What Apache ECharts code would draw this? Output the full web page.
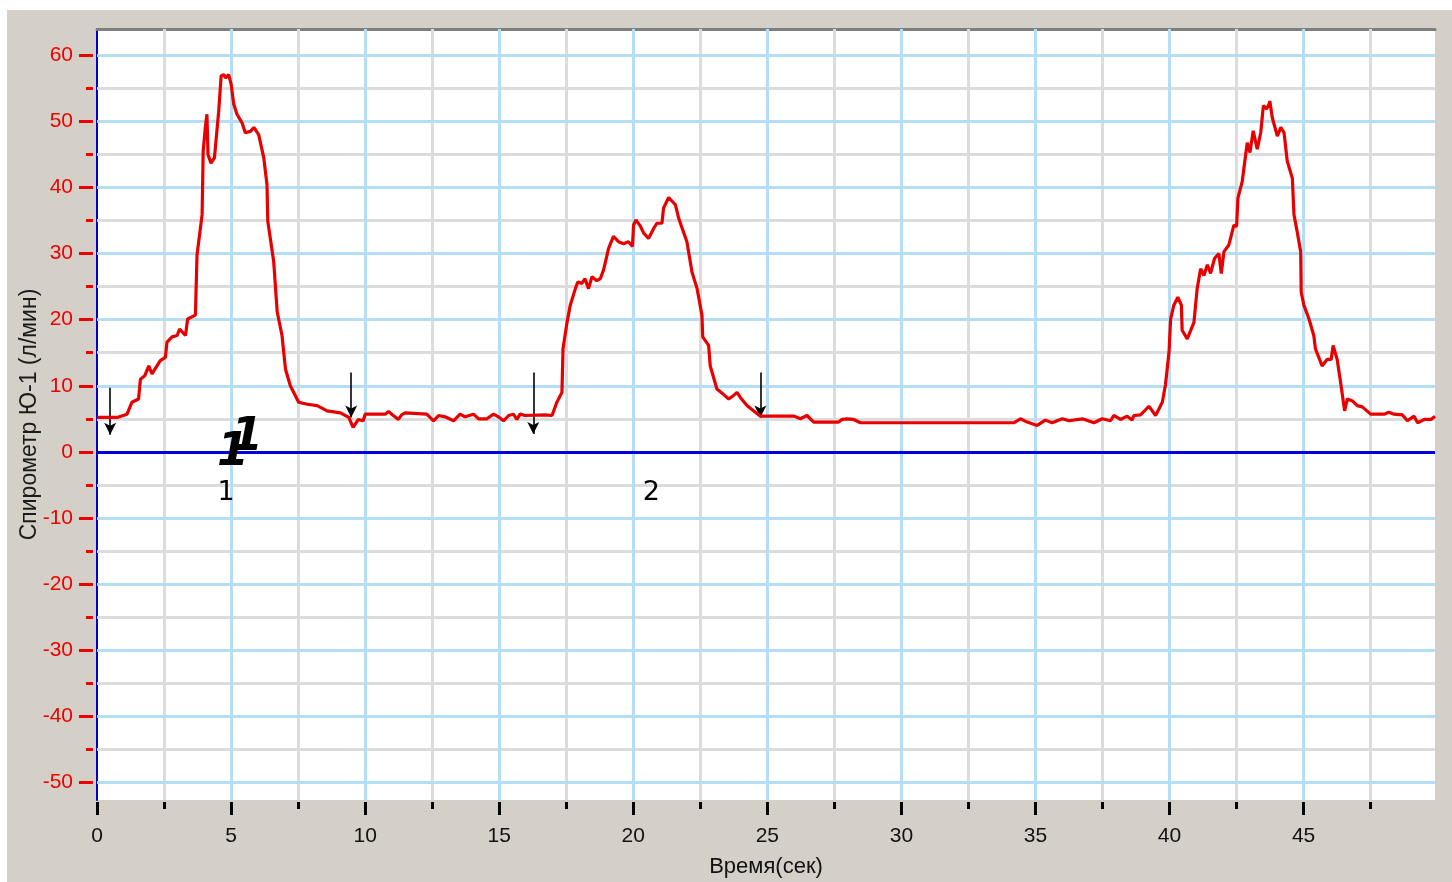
<!DOCTYPE html>
<html>
<head>
<meta charset="utf-8">
<script src="https://cdn.jsdelivr.net/npm/echarts@6/dist/echarts.min.js"></script>
<style>
html,body{margin:0;padding:0;background:#ffffff;width:1452px;height:882px;overflow:hidden;}
#bg{position:absolute;left:7px;top:10px;width:1445px;height:872px;background:#d4d0c8;}
#chart{position:absolute;left:0;top:0;width:1452px;height:882px;}
</style>
</head>
<body>
<div id="bg"></div>
<div id="chart"></div>
<script>
// ---- data ----
const timeSec = [
0,0.75,1.12,1.3,1.55,1.62,1.78,1.93,2.05,2.36,2.55,2.61,2.8,2.99,3.08,3.3,3.38,3.67,3.73,3.92,
3.96,4.04,4.1,4.14,4.25,4.38,4.54,4.63,4.73,4.8,4.91,5.0,5.1,5.22,5.41,5.53,5.72,5.85,6.03,6.22,
6.34,6.37,6.59,6.72,6.9,7.03,7.21,7.52,7.84,8.21,8.58,9.08,9.39,9.55,9.75,9.93,10.0,10.75,10.87,11.05,
11.24,11.36,11.49,12.3,12.36,12.55,12.74,12.98,13.3,13.54,13.73,14.04,14.23,14.54,14.79,14.97,15.16,15.35,15.53,15.66,
15.78,15.97,16.72,16.97,17.15,17.34,17.38,17.53,17.65,17.84,17.93,18.08,18.2,18.33,18.46,18.64,18.77,18.89,19.08,19.26,
19.45,19.64,19.82,19.97,20.01,20.1,20.26,20.39,20.57,20.76,20.88,21.07,21.13,21.32,21.57,21.69,22.0,22.19,22.38,22.56,
22.59,22.81,22.87,23.12,23.36,23.56,23.73,23.87,24.0,24.24,24.74,25.36,26.0,26.23,26.48,26.73,27.66,27.78,27.97,28.22,
28.47,29.22,34.19,34.44,34.69,35.06,35.37,35.62,36.0,36.25,36.75,37.18,37.49,37.8,37.92,38.17,38.42,38.6,38.67,38.92,
39.23,39.48,39.73,39.85,39.98,40.04,40.16,40.31,40.44,40.47,40.66,40.91,41.03,41.16,41.28,41.41,41.53,41.68,41.84,41.93,
42.03,42.21,42.4,42.5,42.55,42.71,42.84,42.9,43.0,43.12,43.27,43.4,43.5,43.62,43.71,43.74,43.83,44.02,44.15,44.27,
44.39,44.58,44.64,44.76,44.89,44.91,45.01,45.2,45.38,45.44,45.69,45.88,46.03,46.1,46.25,46.38,46.53,46.63,46.82,47.0,
47.19,47.5,48.0,48.18,48.37,48.68,48.87,49.12,49.25,49.5,49.75,49.9
];
const flowLpm = [
5.2,5.2,5.7,7.5,8.0,11.0,11.5,13.0,11.8,13.8,14.3,16.6,17.4,17.6,18.6,17.6,20.1,20.7,29.8,35.9,
45.5,49.1,51.1,45.0,43.7,44.5,51.6,56.9,57.1,56.6,57.1,55.7,52.6,51.1,49.8,48.3,48.5,49.1,48.0,44.5,
40.4,34.9,28.8,21.2,17.6,12.5,10.0,7.5,7.2,7.0,6.2,5.9,5.2,3.7,4.9,4.7,5.7,5.7,6.1,5.5,
4.9,5.6,5.9,5.7,6.0,4.7,5.5,5.3,4.7,5.7,5.3,5.7,5.0,5.0,5.7,5.3,4.7,5.5,5.7,4.9,
5.7,5.5,5.6,5.5,7.5,9.0,15.6,19.6,22.2,24.7,25.7,25.5,26.2,24.7,26.5,25.9,26.2,27.5,30.8,32.6,
31.8,31.5,31.8,31.1,34.3,35.1,34.2,33.1,32.3,33.8,34.6,34.6,36.9,38.5,37.4,35.4,31.8,27.2,24.7,20.7,
17.4,16.1,13.0,9.5,8.7,8.0,8.5,9.0,8.2,7.0,5.4,5.4,5.4,5.0,5.5,4.5,4.5,4.9,5.0,4.9,
4.4,4.4,4.4,5.0,4.5,4.0,4.8,4.4,5.0,4.7,5.0,4.4,5.0,4.7,5.5,4.9,5.4,4.8,5.5,5.6,
6.9,5.5,7.5,10.2,15.1,20.1,22.2,23.4,22.2,18.4,17.1,19.6,24.7,27.7,26.7,28.3,27.0,29.3,30.0,27.0,
30.3,31.3,34.3,34.1,38.4,40.9,45.0,46.8,45.3,48.6,45.8,48.3,52.4,51.9,52.6,53.1,50.6,47.8,49.1,48.3,
44.0,41.4,35.9,33.3,30.3,24.2,22.2,20.1,17.6,15.6,13.0,14.0,14.0,16.1,14.0,10.5,6.2,8.0,7.7,7.0,
6.8,5.7,5.7,6.0,5.7,5.6,4.7,5.4,4.4,4.9,4.9,5.4
];
// tick values
const xMajorTicks = [0, 5, 10, 15, 20, 25, 30, 35, 40, 45];
const xMinorTicks = [2.5, 7.5, 12.5, 17.5, 22.5, 27.5, 32.5, 37.5, 42.5, 47.5];
const yMajorTicks = [-50, -40, -30, -20, -10, 0, 10, 20, 30, 40, 50, 60];
const yMinorTicks = [-45, -35, -25, -15, -5, 5, 15, 25, 35, 45, 55];
// arrow markers (time, top value, bottom value)
const arrowTime   = [0.49, 9.48, 16.27, 24.74];
const arrowTop    = [9.7, 12.0, 12.0, 12.0];
const arrowBottom = [2.6, 5.2, 2.7, 5.2];
// text notes
const noteText = ['1', '2'];
const noteTime = [4.81, 20.67];
const noteVal  = [-6.24, -6.24];
const bigNoteText = ['1', '1'];
const bigNoteTime = [5.07, 5.59];
const bigNoteVal  = [-0.15, 2.13];

const xTitle = 'Время(сек)';
const yTitle = 'Спирометр Ю-1 (л/мин)';

// ---- chart ----
const Y_MIN = -52.7, Y_MAX = 64, X_MIN = 0, X_MAX = 49.9;
const FONT = '"Liberation Sans", Arial, sans-serif';
const BLUE_GRID = '#b4def5';
const GRAY_GRID = '#dcdcdc';
const RED = '#ee0000';

const lineData = timeSec.map((t, i) => [t, flowLpm[i]]);
const arrowLines = arrowTime.map((t, i) => [
  {coord: [t, arrowTop[i]], symbol: 'none'},
  {coord: [t, arrowBottom[i]], symbol: 'arrow'}
]);

const chart = echarts.init(document.getElementById('chart'), null, {renderer: 'canvas'});
chart.setOption({
  animation: false,
  backgroundColor: 'transparent',
  grid: {left: 97, top: 29, right: 17, bottom: 82, show: true, backgroundColor: '#ffffff', borderWidth: 0,
         containLabel: false, outerBoundsMode: 'none'},
  xAxis: [{
    type: 'value', position: 'bottom', min: X_MIN, max: X_MAX, interval: 5, offset: 2,
    axisLine: {show: false, onZero: false},
    axisTick: {show: true, customValues: xMajorTicks, length: 13, lineStyle: {color: '#000', width: 3}},
    minorTick: {show: false, splitNumber: 2},
    axisLabel: {color: '#111', fontSize: 21, fontFamily: FONT, margin: 24, customValues: xMajorTicks},
    splitLine: {show: false},
    name: xTitle, nameLocation: 'middle', nameGap: 54, nameMoveOverlap: false,
    nameTextStyle: {color: '#111', fontSize: 22, fontFamily: FONT}
  }, {
    type: 'value', position: 'top', min: X_MIN, max: X_MAX,
    axisLine: {show: true, onZero: false, lineStyle: {color: '#7f7f7f', width: 3}},
    axisTick: {show: false}, axisLabel: {show: false}, splitLine: {show: false}
  }, {
    type: 'value', position: 'bottom', min: X_MIN, max: X_MAX, offset: 2,
    axisLine: {show: false, onZero: false},
    axisTick: {show: true, customValues: xMinorTicks, length: 7, lineStyle: {color: '#000', width: 3}},
    axisLabel: {show: false}, splitLine: {show: false}
  }],
  yAxis: [{
    type: 'value', position: 'left', min: Y_MIN, max: Y_MAX, splitNumber: 12, offset: 4,
    axisLine: {show: false, onZero: false},
    axisTick: {show: true, customValues: yMajorTicks, length: 14, lineStyle: {color: RED, width: 3}},
    minorTick: {show: false},
    axisLabel: {color: RED, fontSize: 21, fontFamily: FONT, margin: 20, customValues: yMajorTicks},
    splitLine: {show: false},
    name: yTitle, nameLocation: 'middle', nameGap: 52, nameRotate: 90, nameMoveOverlap: false,
    nameTextStyle: {color: '#1a1a1a', fontSize: 23, fontFamily: FONT}
  }, {
    type: 'value', position: 'left', min: Y_MIN, max: Y_MAX, offset: 0,
    axisLine: {show: true, onZero: false, lineStyle: {color: '#0000cc', width: 2}},
    axisTick: {show: false}, axisLabel: {show: false}, splitLine: {show: false}
  }, {
    type: 'value', position: 'left', min: Y_MIN, max: Y_MAX, offset: 4,
    axisLine: {show: false, onZero: false},
    axisTick: {show: true, customValues: yMinorTicks, length: 7, lineStyle: {color: RED, width: 3}},
    axisLabel: {show: false}, splitLine: {show: false}
  }],
  series: [{
    type: 'line', name: 'minorGrid', xAxisIndex: 0, yAxisIndex: 0, data: [], silent: true, z: 1,
    markLine: {
      silent: true, symbol: ['none', 'none'], label: {show: false},
      lineStyle: {color: GRAY_GRID, width: 3, type: 'solid'},
      data: yMinorTicks.map(v => ({yAxis: v})).concat(xMinorTicks.map(v => ({xAxis: v})))
    }
  }, {
    type: 'line', name: 'majorGrid', xAxisIndex: 0, yAxisIndex: 0, data: [], silent: true, z: 2,
    markLine: {
      silent: true, symbol: ['none', 'none'], label: {show: false},
      lineStyle: {color: BLUE_GRID, width: 3, type: 'solid'},
      data: yMajorTicks.filter(v => v !== 0).map(v => ({yAxis: v})).concat(xMajorTicks.filter(v => v !== 0).map(v => ({xAxis: v})))
    }
  }, {
    type: 'line', name: 'zero', xAxisIndex: 0, yAxisIndex: 0, data: [], silent: true, z: 3,
    markLine: {
      silent: true, symbol: ['none', 'none'], label: {show: false},
      lineStyle: {color: '#0000dd', width: 3, type: 'solid'},
      data: [{yAxis: 0}]
    }
  }, {
    type: 'line', name: 'flow', xAxisIndex: 0, yAxisIndex: 0, data: lineData,
    showSymbol: false, symbol: 'none', smooth: false, z: 5,
    lineStyle: {color: '#e80000', width: 3.2},
    markLine: {
      silent: true, symbolSize: [9, 12], label: {show: false},
      lineStyle: {color: '#000', width: 1.6, type: 'solid'},
      data: arrowLines
    }
  }, {
    type: 'scatter', name: 'notes', data: noteTime.map((t, i) => [t, noteVal[i], noteText[i]]),
    symbolSize: 0, itemStyle: {color: '#000000'}, z: 6,
    label: {show: true, position: 'inside', formatter: p => p.value[2], color: '#000000', opacity: 1, textBorderWidth: 0, fontSize: 27, fontFamily: '"DejaVu Sans", sans-serif'}
  }, {
    type: 'scatter', name: 'bignotes', data: bigNoteTime.map((t, i) => [t, bigNoteVal[i], bigNoteText[i]]),
    symbolSize: 0, itemStyle: {color: '#000000'}, z: 7,
    label: {show: true, position: 'inside', formatter: p => p.value[2], color: '#000000', opacity: 1, textBorderWidth: 0, fontSize: 46, fontWeight: 'bold', fontStyle: 'italic', fontFamily: '"DejaVu Sans", sans-serif'}
  }]
});
</script>
</body>
</html>
